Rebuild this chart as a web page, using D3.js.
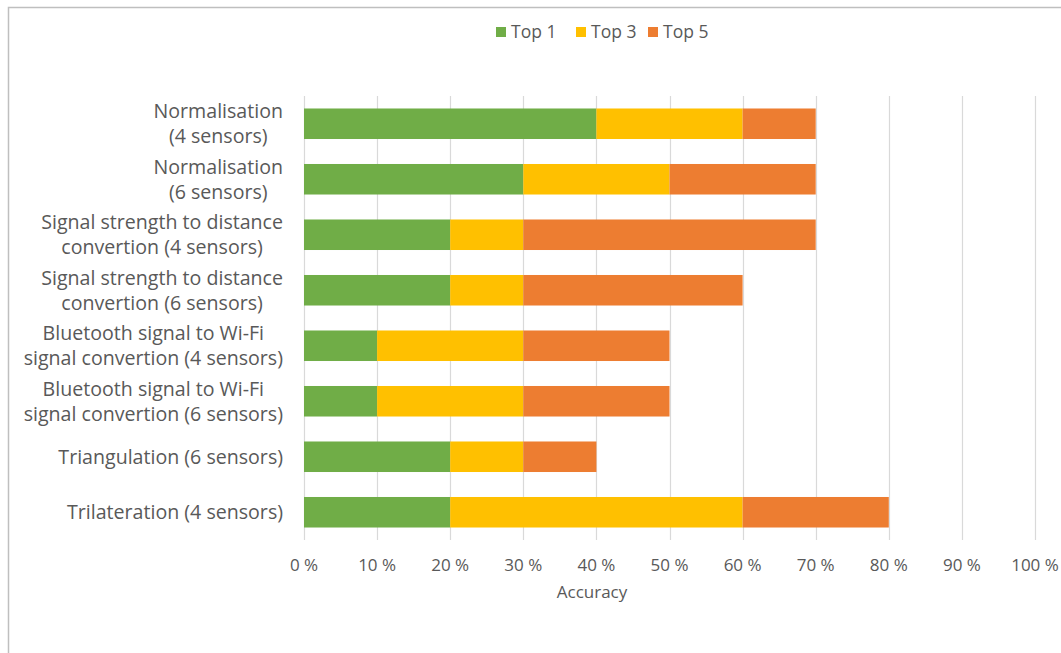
<!DOCTYPE html>
<html>
<head>
<meta charset="utf-8">
<script src="https://cdn.jsdelivr.net/npm/d3@7/dist/d3.min.js"></script>
<style>
  html, body { margin: 0; padding: 0; background: #fff; }
  svg { display: block; font-family: "Open Sans", "Lato", sans-serif; }
</style>
</head>
<body>
<svg id="chart" width="1061" height="653"></svg>
<script>
// Method names (each split into display lines)
const methods = [
  ["Normalisation", "(4 sensors)"],
  ["Normalisation", "(6 sensors)"],
  ["Signal strength to distance", "convertion (4 sensors)"],
  ["Signal strength to distance", "convertion (6 sensors)"],
  ["Bluetooth signal to Wi-Fi", "signal convertion (4 sensors)"],
  ["Bluetooth signal to Wi-Fi", "signal convertion (6 sensors)"],
  ["Triangulation (6 sensors)"],
  ["Trilateration (4 sensors)"]
];
// Accuracy segments in percent (stacked: Top 1, then extra for Top 3, then extra for Top 5)
const top1 = [40, 30, 20, 20, 10, 10, 20, 20];
const top3 = [20, 20, 10, 10, 20, 20, 10, 40];
const top5 = [10, 20, 40, 30, 20, 20, 10, 20];
const seriesNames = ["Top 1", "Top 3", "Top 5"];
const seriesColors = ["#70AD47", "#FFC000", "#ED7D31"];
const xTicks = [0, 10, 20, 30, 40, 50, 60, 70, 80, 90, 100];

const svg = d3.select("#chart");
const textColor = "#595959";

// Chart frame
svg.append("path")
  .attr("d", "M8.5,653 V7.5 H1061")
  .attr("fill", "none")
  .attr("stroke", "#BFBFBF")
  .attr("stroke-width", 1.5);

const plot = { left: 304, right: 1035, top: 96, bottom: 540 };

const x = d3.scaleLinear().domain([0, 100]).range([plot.left, plot.right]);
const y = d3.scaleBand()
  .domain(d3.range(methods.length))
  .range([plot.top, plot.bottom])
  .paddingInner(0.45)
  .paddingOuter(0.225);

// Gridlines
svg.append("g")
  .selectAll("line")
  .data(xTicks)
  .join("line")
  .attr("x1", d => Math.round(x(d)) + 0.5)
  .attr("x2", d => Math.round(x(d)) + 0.5)
  .attr("y1", plot.top)
  .attr("y2", plot.bottom)
  .attr("stroke", "#D9D9D9")
  .attr("stroke-width", 1.2);

// Stacked bars
const rows = methods.map((m, i) => ({ i, "Top 1": top1[i], "Top 3": top3[i], "Top 5": top5[i] }));
const stacked = d3.stack().keys(seriesNames)(rows);

svg.append("g")
  .selectAll("g")
  .data(stacked)
  .join("g")
  .attr("fill", (d, k) => seriesColors[k])
  .selectAll("rect")
  .data(d => d)
  .join("rect")
  .attr("x", d => x(d[0]))
  .attr("width", d => x(d[1]) - x(d[0]))
  .attr("y", d => y(d.data.i))
  .attr("height", y.bandwidth());

// Category labels: each multi-line block is centred, with its right edge at labelRight
const labelRight = 283;
const lineHeight = 25;
const labels = svg.append("g")
  .attr("font-size", 19.6)
  .attr("fill", textColor)
  .attr("text-anchor", "middle");
methods.forEach((lines, i) => {
  const cy = y(i) + y.bandwidth() / 2;
  const t = labels.append("text");
  const spans = lines.map((ln, j) =>
    t.append("tspan")
      .attr("y", cy + (j - (lines.length - 1) / 2) * lineHeight)
      .attr("dy", "0.35em")
      .text(ln));
  const maxW = d3.max(spans, s => s.node().getComputedTextLength());
  spans.forEach(s => s.attr("x", labelRight - maxW / 2));
});

// X axis tick labels
svg.append("g")
  .attr("font-size", 17)
  .attr("fill", textColor)
  .attr("text-anchor", "middle")
  .selectAll("text")
  .data(xTicks)
  .join("text")
  .attr("x", d => x(d))
  .attr("y", 565)
  .attr("dy", "0.35em")
  .text(d => d + " %");

// Axis title
svg.append("text")
  .attr("x", 592)
  .attr("y", 592)
  .attr("dy", "0.35em")
  .attr("text-anchor", "middle")
  .attr("font-size", 17)
  .attr("fill", textColor)
  .text("Accuracy");

// Legend
const legendX = [496, 576, 648];
const legend = svg.append("g");
seriesNames.forEach((name, k) => {
  legend.append("rect")
    .attr("x", legendX[k])
    .attr("y", 27)
    .attr("width", 10)
    .attr("height", 10)
    .attr("fill", seriesColors[k]);
  legend.append("text")
    .attr("x", legendX[k] + 15)
    .attr("y", 32)
    .attr("dy", "0.35em")
    .attr("font-size", 17.5)
    .attr("fill", textColor)
    .text(name);
});
</script>
</body>
</html>
